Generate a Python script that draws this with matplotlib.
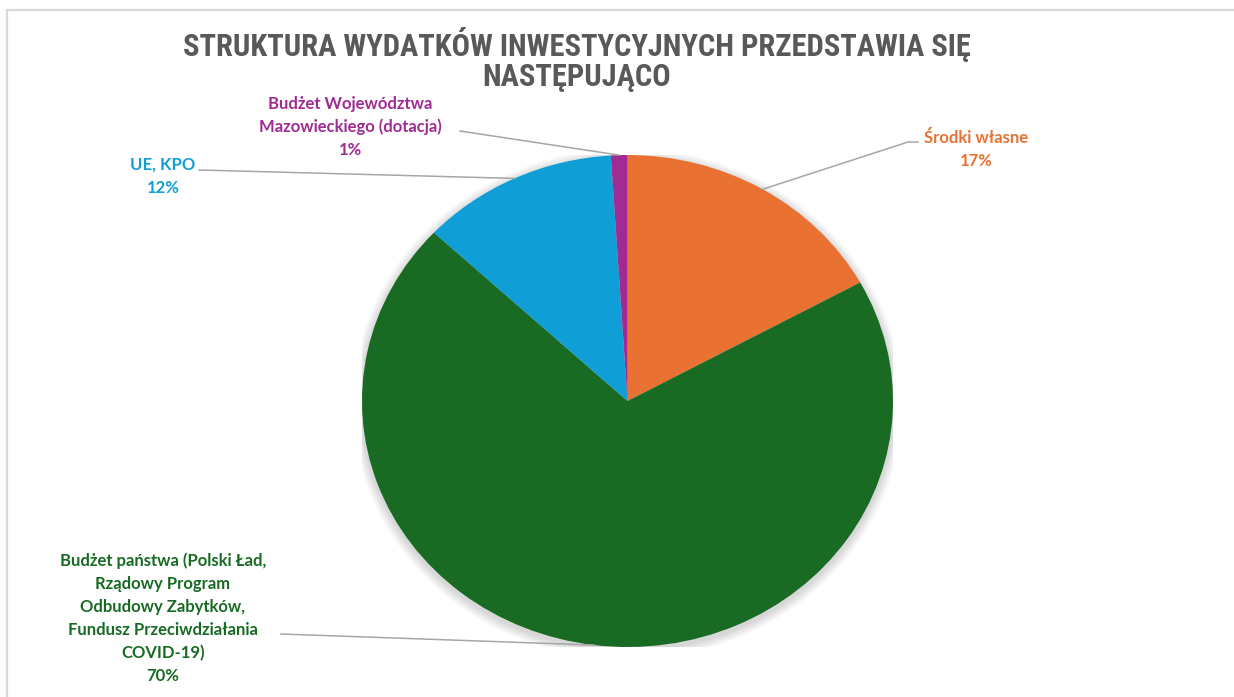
import matplotlib
matplotlib.use("Agg")
import matplotlib.pyplot as plt
from matplotlib.patches import Rectangle, Ellipse
import numpy as np

W, H = 1234, 697

title_lines = ["STRUKTURA WYDATKÓW INWESTYCYJNYCH PRZEDSTAWIA SIĘ", "NASTĘPUJĄCO"]
categories = [
    "Środki własne",
    "Budżet państwa (Polski Ład,\nRządowy Program\nOdbudowy Zabytków,\nFundusz Przeciwdziałania\nCOVID-19)",
    "UE, KPO",
    "Budżet Województwa\nMazowieckiego (dotacja)",
]
values = [17, 70, 12, 1]
colors = ["#E97132", "#196B24", "#0F9ED5", "#A02B93"]

# label layout (pixel coords: text centre x, top-line centre y, leader start x, leader start y)
label_pos = [
    (976, 138, 912, 142),
    (163, 561, 281, 634),
    (163, 165, 199, 170),
    (350, 104, 460, 131),
]

fig = plt.figure(figsize=(W / 100, H / 100), dpi=100)
fig.patch.set_facecolor("white")

def fx(x):
    return x / W

def fy(y):
    return 1 - y / H

# border
fig.add_artist(Rectangle((fx(7), fy(H + 10)), 1.5, fy(10) - fy(H + 10),
                         transform=fig.transFigure, fill=False,
                         edgecolor="#d9d9d9", linewidth=1.6))

# pie
cx, cy, rx, ry = 627.5, 401, 265.5, 246
ax = fig.add_axes([fx(cx - rx), fy(cy + ry), 2 * rx / W, 2 * ry / H])
# soft shadow
for k in range(8):
    grow = (k + 1) * 1.2
    ax.add_patch(Ellipse((0, -3.0 / ry), 2 * (1 + grow / rx), 2 * (1 + grow / ry),
                         facecolor="black", edgecolor="none", alpha=0.018, zorder=0))
wedges, _ = ax.pie(values, colors=colors, startangle=90, counterclock=False,
                   radius=1, wedgeprops=dict(linewidth=0, zorder=2))
ax.set_xlim(-1, 1)
ax.set_ylim(-1, 1)
ax.set_aspect("auto")
ax.axis("off")

# title
title_font = ["Roboto Condensed", "DejaVu Sans Condensed", "Liberation Sans Narrow",
              "Open Sans Condensed", "DejaVu Sans"]
for i, line in enumerate(title_lines):
    fig.text(fx(577), fy(45 + 32 * i), line, ha="center", va="center",
             fontsize=22, fontweight="bold", fontstretch="condensed",
             color="#595959", family=title_font)

label_font = ["Lato", "DejaVu Sans"]
total = sum(values)
cum = 0
for cat, v, col, (tx, ty, lx, ly) in zip(categories, values, colors, label_pos):
    mid = 90 - (cum + v / 2) / total * 360
    cum += v
    txt = f"{cat}\n{v}%"
    spacing = 23
    for i, line in enumerate(txt.split("\n")):
        fig.text(fx(tx), fy(ty + i * spacing), line, ha="center", va="center",
                 fontsize=12, fontweight="bold", color=col, family=label_font)
    r = 1.0
    px = cx + rx * r * np.cos(np.radians(mid))
    py = cy - ry * r * np.sin(np.radians(mid))
    xs = [lx, px]
    ys = [ly, py]
    if cat == "Środki własne":
        xs = [lx + 6, lx - 4, px]
        ys = [ly, ly, py]
    fig.add_artist(plt.Line2D([fx(x) for x in xs], [fy(y) for y in ys],
                              transform=fig.transFigure, color="#a6a6a6", linewidth=1.1))

fig.savefig("out.png", dpi=100, facecolor="white")
